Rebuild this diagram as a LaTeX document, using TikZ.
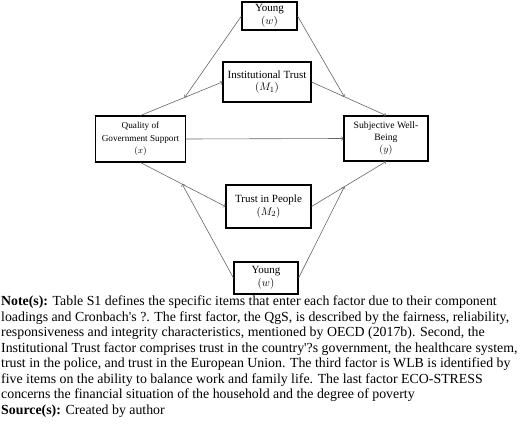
\documentclass[tikz,border=0pt]{standalone}
\usepackage{fontspec}
\setmainfont{Liberation Serif}
\usetikzlibrary{calc}
\begin{document}
\begin{tikzpicture}[x=1pt,y=-1pt,
  box/.style={draw=black,line width=1.1pt,rectangle,align=center,inner sep=0pt,font=\fontsize{11}{12.5}\selectfont},
  conn/.style={draw=black!60,line width=0.6pt,-to},
  notetext/.style={anchor=north west,inner sep=0pt,align=left,font=\fontsize{13.85}{15.5}\selectfont}]
\useasboundingbox (0,0) rectangle (520,434);
\node[box,minimum width=55pt,minimum height=28pt] (yt) at (269.5,16) {Young\\$(w)$};
\node[box,minimum width=88pt,minimum height=40pt] (it) at (267,82) {Institutional Trust\\$(M_1)$};
\node[box,minimum width=90pt,minimum height=46pt,font=\fontsize{9.2}{12.3}\selectfont] (q) at (140.5,139) {Quality of\\Government Support\\$(x)$};
\node[box,minimum width=84pt,minimum height=45pt,font=\fontsize{9.7}{12}\selectfont] (s) at (386,138.5) {Subjective Well-\\Being\\$(y)$};
\node[box,minimum width=85pt,minimum height=43pt] (tp) at (268.5,206.5) {Trust in People\\$(M_2)$};
\node[box,minimum width=64pt,minimum height=32pt] (yb) at (266,278) {Young\\$(w)$};
\draw[conn] (q.north) -- (it.west);
\draw[conn] (it.east) -- (s.north);
\draw[conn] (q.east) -- (s.west);
\draw[conn] (q.south) -- (tp.west);
\draw[conn] (tp.east) -- (s.south);
\coordinate (m1) at ($(q.north)!0.54!(it.west)$);
\coordinate (m2) at ($(it.east)!0.44!(s.north)$);
\coordinate (m3) at ($(q.south)!0.49!(tp.west)$);
\coordinate (m4) at ($(tp.east)!0.44!(s.south)$);
\draw[conn] (yt.west) -- (m1);
\draw[conn] (yt.east) -- (m2);
\draw[conn] (yb.west) -- (m3);
\draw[conn] (yb.east) -- (m4);
\node[notetext] (note) at (1,296) {\textbf{Note(s):} Table S1 defines the specific items that enter each factor due to their component\\
loadings and Cronbach\textquotesingle s ?. The first factor, the QgS, is described by the fairness, reliability,\\
responsiveness and integrity characteristics, mentioned by OECD (2017b). Second, the\\
Institutional Trust factor comprises trust in the country\textquotesingle ?s government, the healthcare system,\\
trust in the police, and trust in the European Union. The third factor is WLB is identified by\\
five items on the ability to balance work and family life. The last factor ECO-STRESS\\
concerns the financial situation of the household and the degree of poverty\\
\textbf{Source(s):} Created by author};
\end{tikzpicture}
\end{document}
